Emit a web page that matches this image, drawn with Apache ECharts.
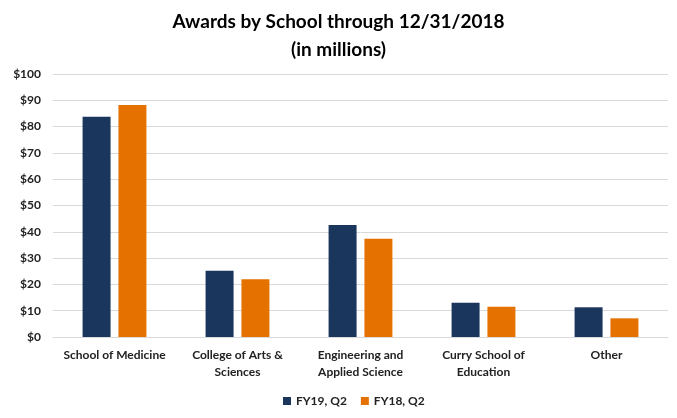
<!DOCTYPE html>
<html><head><meta charset="utf-8">
<script src="https://cdn.jsdelivr.net/npm/echarts@6/dist/echarts.min.js"></script>
<style>html,body{margin:0;padding:0;background:#fff}#c{width:677px;height:418px}</style>
</head><body><div id="c"></div>
<script>
const categories = ["School of Medicine", "College of Arts &\nSciences", "Engineering and\nApplied Science", "Curry School of\nEducation", "Other"];
const fy19 = [83.7, 25.2, 42.6, 13.0, 11.3];
const fy18 = [88.2, 22.0, 37.4, 11.5, 7.1];
const seriesNames = ["FY19, Q2", "FY18, Q2"];
const chart = echarts.init(document.getElementById('c'));
chart.setOption({
  animation: false,
  title: {
    text: "Awards by School through 12/31/2018\n(in millions)",
    left: 'center', top: 3,
    textStyle: {fontFamily: 'Lato', fontWeight: 'bold', fontSize: 19, color: '#000', lineHeight: 28}
  },
  legend: {
    data: seriesNames, bottom: 6, left: 278, itemWidth: 8, itemHeight: 8, itemGap: 14,
    icon: 'rect',
    textStyle: {fontFamily: 'Lato', fontWeight: 'bold', fontSize: 12, color: '#222'}
  },
  grid: {left: 53, right: 9, top: 74, bottom: 81, containLabel: false},
  xAxis: {
    type: 'category', data: categories,
    axisLine: {lineStyle: {color: '#d9d9d9'}}, axisTick: {show: false},
    axisLabel: {fontFamily: 'Lato', fontWeight: 'bold', fontSize: 12, color: '#222', lineHeight: 17, margin: 10, interval: 0}
  },
  yAxis: {
    type: 'value', min: 0, max: 100, interval: 10,
    axisLabel: {formatter: v => '$' + v, fontFamily: 'Lato', fontWeight: 'bold', fontSize: 12, color: '#222', margin: 12},
    splitLine: {lineStyle: {color: '#d9d9d9'}},
    axisLine: {show: false}, axisTick: {show: false}
  },
  series: [
    {name: seriesNames[0], type: 'bar', data: fy19, barWidth: 28, barGap: '28%', itemStyle: {color: '#1b365d'}},
    {name: seriesNames[1], type: 'bar', data: fy18, barWidth: 28, barGap: '28%', itemStyle: {color: '#e57200'}}
  ]
});
</script></body></html>
